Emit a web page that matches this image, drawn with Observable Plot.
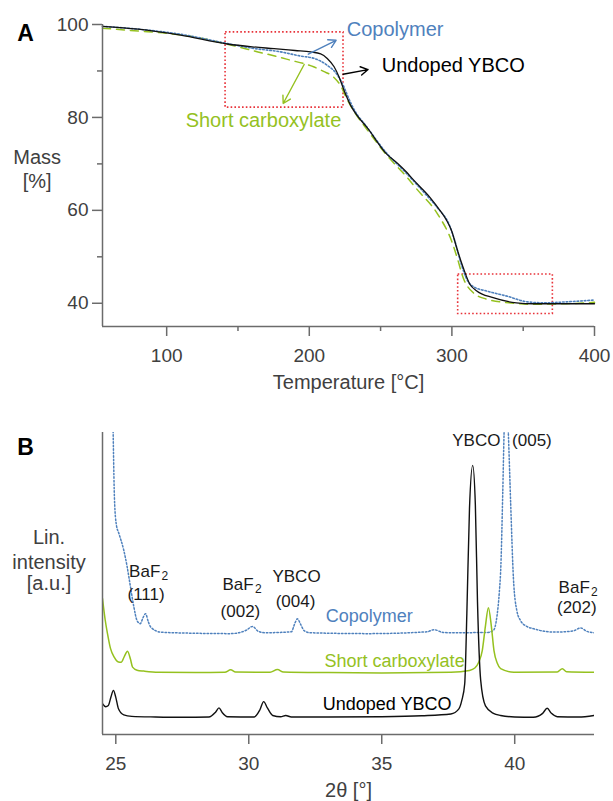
<!DOCTYPE html>
<html><head><meta charset="utf-8">
<script src="https://cdn.jsdelivr.net/npm/d3@7"></script>
<script src="https://cdn.jsdelivr.net/npm/@observablehq/plot@0.6"></script>
<style>
body{margin:0;background:#fff;}
#wrap{position:relative;width:613px;height:801px;background:#fff;}
#wrap svg{position:absolute;left:0;}
</style></head><body><div id="wrap"></div>
<script>
const FONT = '"Liberation Sans", Arial, Helvetica, sans-serif';
const BLUE = "#4f81bd", GREEN = "#95c11f", RED = "#e8333a", AXIS = "#6b6b6b", TXT = "#404040";

// ---------- Panel A: TGA (Temperature °C, Mass %) ----------
const undopedTGA = [[55,99.6],[80,99.0],[109.8,97.7],[142.6,95.8],[160,95.2],[175.3,94.8],[190,94.4],[201,94.1],[208,93.7],[212.6,92.7],[217.4,90.9],[220.9,88.7],[224.4,85.8],[229,82.6],[234,80.2],[240.3,77.9],[254.3,72.1],[262,70.1],[268.3,68.2],[272.9,66.6],[284.6,62.8],[291.6,60.0],[296,58.0],[299.8,55.6],[303.3,52.0],[307.9,47.7],[312.6,44.1],[317.2,42.7],[328.9,41.2],[345.2,40.1],[356.8,39.9],[400,39.9]];
const copolymerTGA = [[55,99.6],[80,99.0],[109.8,97.9],[142.6,95.9],[160,94.9],[180,94.1],[194,93.2],[203.4,92.7],[212.7,91.2],[219.8,89.1],[224.4,86.5],[227.5,84.2],[232,81.4],[240,78.1],[254,72.4],[268,68.0],[280,64.0],[290,60.5],[298,57.0],[302,53.5],[306,49.0],[310.9,44.9],[315.6,43.5],[324.9,42.6],[339,41.5],[353,40.3],[365,40.1],[380,40.3],[400,40.7]];
const shortTGA = [[55,99.2],[80,98.6],[100.5,98.1],[125,97.0],[142,95.8],[150,95.2],[164,94.1],[180,92.9],[187,92.3],[196,91.6],[203,90.9],[210,89.9],[217,88.7],[222,86.8],[226,84.2],[232,81.0],[240,77.6],[254,72.0],[268,67.3],[275.3,64.6],[290,59.2],[299.8,53.4],[304,49.5],[307.9,45.5],[314.9,42.3],[324.2,40.9],[340,40.1],[356.8,39.8],[380,39.9],[400,40.2]];
const tgaXTicks = [100, 200, 300, 400];
const tgaXMinor = [150, 250, 350];
const tgaYTicks = [40, 60, 80, 100];
const tgaYMinor = [50, 70, 90];
const tgaSeriesNames = ["Copolymer", "Undoped YBCO", "Short carboxylate"];
// highlighted regions [x1, x2, y1, y2]
const tgaBoxes = [[141.3, 224.0, 82.1, 98.3], [304.4, 370.8, 37.7, 46.2]];
// annotation arrows [x1, y1, x2, y2]
const tgaArrows = [[199.3, 93.6, 218.8, 96.6], [223.7, 89.3, 241.2, 90.3], [196.4, 91.4, 181.7, 83.0]];

// ---------- Panel B: XRD (2θ °, intensity a.u.) ----------
const undopedXRD = [[24.5,10.2],[24.62,9.2],[24.72,9.6],[24.82,12.5],[24.91,14.6],[25.0,12.3],[25.1,8.5],[25.3,6.5],[25.6,6.0],[26.5,5.8],[27.5,5.7],[28.5,5.8],[28.75,7.4],[28.88,8.8],[29.0,7.3],[29.2,5.9],[30.2,5.8],[30.42,8.2],[30.56,10.9],[30.7,8.8],[30.9,6.3],[31.2,5.9],[31.39,6.3],[31.6,5.8],[33,5.8],[35,5.9],[36.5,6.2],[37.6,6.8],[37.9,8.5],[38.01,11.3],[38.12,16.8],[38.2,40],[38.3,75],[38.42,89.1],[38.52,76],[38.6,44],[38.72,18],[38.9,9.5],[39.2,7.0],[39.47,6.3],[40.0,5.8],[40.7,5.7],[41.05,7.0],[41.22,8.7],[41.38,7.0],[41.6,5.9],[42.4,5.8],[42.98,6.3]];
const shortXRD = [[24.5,45.0],[24.6,38.0],[24.69,33.3],[24.8,28.5],[24.94,25.6],[25.1,24.0],[25.2,23.9],[25.32,25.8],[25.44,27.6],[25.55,25.0],[25.63,22.3],[25.8,21.3],[26.06,21.0],[26.6,20.6],[28,20.5],[29.1,20.6],[29.32,21.4],[29.5,20.7],[30.8,20.6],[31.08,21.5],[31.3,20.7],[33,20.5],[35,20.4],[37.6,20.6],[38.3,21.2],[38.5,22.0],[38.65,24.0],[38.78,27.8],[38.9,36.0],[39.01,42.0],[39.12,36.0],[39.22,27.8],[39.35,23.5],[39.47,21.8],[39.97,20.6],[41.6,20.7],[41.79,21.8],[41.95,20.8],[42.98,20.6]];
const copolymerXRD = [[24.88,112],[24.91,95],[24.95,78],[25.02,69.5],[25.12,66.5],[25.3,61.0],[25.43,55.4],[25.55,49.0],[25.68,42.2],[25.8,37.7],[25.92,36.7],[26.02,38.6],[26.12,40.0],[26.22,37.4],[26.32,35.5],[26.69,33.9],[27.6,33.6],[29.32,33.4],[29.9,34.5],[30.14,35.8],[30.35,34.2],[30.6,33.7],[31.6,34.0],[31.74,37.0],[31.83,38.3],[31.95,36.5],[32.08,34.4],[32.3,33.7],[34.5,33.4],[36.7,34.0],[36.97,34.7],[37.3,33.8],[37.6,33.7],[39.0,33.8],[39.2,34.5],[39.33,39.0],[39.42,47.0],[39.48,56.0],[39.55,80.0],[39.6,100],[39.68,118],[39.76,100],[39.85,76],[39.95,52],[40.08,41],[40.22,37.7],[40.45,35.8],[40.72,35.0],[41.1,34.2],[41.48,33.9],[42.2,34.3],[42.48,35.3],[42.7,34.2],[42.98,33.7]];
const xrdXTicks = [25, 30, 35, 40];
const peakText = ["BaF", "(111)", "BaF", "(002)", "YBCO", "(004)", "YBCO", "(005)", "BaF", "(202)"];
const peakX = [25.5, 25.44, 29.01, 28.94, 30.89, 31.01, 37.65, 39.9, 41.65, 41.59];
const peakY = [52.1, 44.4, 47.7, 38.9, 50.4, 42.1, 95.5, 95.5, 46.9, 40.2];
const subText = ["2", "2", "2"];
const subX = [25.5, 29.01, 41.65];
const subY = [52.1, 47.7, 46.9];
const xrdSeriesNames = ["Copolymer", "Short carboxylate", "Undoped YBCO"];
const xrdNameX = [32.89, 32.85, 32.78];
const xrdNameY = [37.2, 22.5, 8.2];

const wrap = document.getElementById("wrap");
const X = d => d[0], Y = d => d[1];

// ---------------- Panel A ----------------
const plotA = Plot.plot({
  width: 613, height: 400,
  marginTop: 24, marginBottom: 74, marginLeft: 102, marginRight: 19,
  x: {domain: [55, 400], label: null},
  y: {domain: [35, 100], label: null},
  style: {fontFamily: FONT, fontSize: "19px", color: TXT, background: "#fff", overflow: "visible"},
  marks: [
    Plot.rect(tgaBoxes, {x1: d => d[0], x2: d => d[1], y1: d => d[2], y2: d => d[3], fill: "none", stroke: RED, strokeWidth: 1.6, strokeDasharray: "1.6,2.2"}),
    Plot.line(shortTGA, {x: X, y: Y, stroke: GREEN, strokeWidth: 1.5, strokeDasharray: "8,6", curve: "monotone-x"}),
    Plot.line(copolymerTGA, {x: X, y: Y, stroke: BLUE, strokeWidth: 1.6, strokeDasharray: "1.6,2", curve: "monotone-x"}),
    Plot.line(undopedTGA, {x: X, y: Y, stroke: "#111", strokeWidth: 1.3, curve: "monotone-x"}),
    Plot.arrow(tgaArrows, {x1: d => d[0], y1: d => d[1], x2: d => d[2], y2: d => d[3], stroke: (d, i) => [BLUE, "#000", GREEN][i], strokeWidth: 1.4, headLength: 9}),
    Plot.text([tgaSeriesNames[0]], {x: [226.3], y: [97.5], text: d => d, textAnchor: "start", lineAnchor: "bottom", fill: BLUE, fontSize: 20}),
    Plot.text([tgaSeriesNames[1]], {x: [250.8], y: [89.8], text: d => d, textAnchor: "start", lineAnchor: "bottom", fill: "#000", fontSize: 20}),
    Plot.text([tgaSeriesNames[2]], {x: [113.3], y: [77.9], text: d => d, textAnchor: "start", lineAnchor: "bottom", fill: GREEN, fontSize: 20}),
    Plot.ruleX([55], {stroke: AXIS, strokeWidth: 1.5}),
    Plot.ruleY([35], {stroke: AXIS, strokeWidth: 1.5}),
    Plot.axisX(tgaXTicks, {anchor: "bottom", tickSize: 10, tickPadding: 12, stroke: AXIS, strokeWidth: 1.5, fill: TXT, label: null}),
    Plot.axisX(tgaXMinor, {anchor: "bottom", tickSize: 5, tickFormat: () => "", stroke: AXIS, strokeWidth: 1.5, label: null}),
    Plot.axisY(tgaYTicks, {anchor: "left", tickSize: 10, tickPadding: 4, stroke: AXIS, strokeWidth: 1.5, fill: TXT, label: null}),
    Plot.axisY(tgaYMinor, {anchor: "left", tickSize: 5, tickFormat: () => "", stroke: AXIS, strokeWidth: 1.5, label: null}),
    Plot.text(["Temperature [°C]"], {frameAnchor: "bottom", text: d => d, dy: 62, lineAnchor: "bottom", fontSize: 20, fill: TXT}),
    Plot.text(["Mass"], {frameAnchor: "left", text: d => d, dx: -65.3, dy: -11.7, lineAnchor: "bottom", textAnchor: "middle", fontSize: 20, fill: TXT}),
    Plot.text(["[%]"], {frameAnchor: "left", text: d => d, dx: -65.3, dy: 12.7, lineAnchor: "bottom", textAnchor: "middle", fontSize: 20, fill: TXT}),
    Plot.text(["A"], {frameAnchor: "top-left", text: d => d, dx: -85.3, dy: 16, lineAnchor: "bottom", textAnchor: "start", fontSize: 23, fontWeight: "bold", fill: "#000"})
  ]
});
plotA.style.top = "0px";
wrap.appendChild(plotA);

// ---------------- Panel B ----------------
const plotB = Plot.plot({
  width: 613, height: 401,
  marginTop: 32, marginBottom: 67, marginLeft: 102, marginRight: 19,
  x: {domain: [24.5, 43], label: null},
  y: {domain: [0, 100], label: null, axis: null},
  style: {fontFamily: FONT, fontSize: "19px", color: TXT, background: "#fff", overflow: "visible"},
  marks: [
    Plot.line(copolymerXRD, {x: X, y: Y, stroke: BLUE, strokeWidth: 1.5, strokeDasharray: "1.5,2", curve: "monotone-x", clip: true}),
    Plot.line(shortXRD, {x: X, y: Y, stroke: GREEN, strokeWidth: 1.5, curve: "monotone-x", clip: true}),
    Plot.line(undopedXRD, {x: X, y: Y, stroke: "#111", strokeWidth: 1.4, curve: "monotone-x", clip: true}),
    Plot.ruleX([24.5], {stroke: AXIS, strokeWidth: 1.5}),
    Plot.ruleY([0], {stroke: AXIS, strokeWidth: 1.5}),
    Plot.axisX(xrdXTicks, {anchor: "bottom", tickSize: 10, tickPadding: 12, stroke: AXIS, strokeWidth: 1.5, fill: TXT, label: null}),
    Plot.text(peakText, {x: peakX, y: peakY, text: d => d, textAnchor: "start", lineAnchor: "bottom", fontSize: 17, fill: "#1a1a1a"}),
    Plot.text(subText, {x: subX, y: subY, text: d => d, dx: 32.5, dy: 3, textAnchor: "start", lineAnchor: "bottom", fontSize: 12, fill: "#1a1a1a"}),
    Plot.text(xrdSeriesNames, {x: xrdNameX, y: xrdNameY, text: d => d, textAnchor: "start", lineAnchor: "bottom", fontSize: 18, fill: (d, i) => [BLUE, GREEN, "#000"][i]}),
    Plot.text(["2θ [°]"], {frameAnchor: "bottom", text: d => d, dy: 62, lineAnchor: "bottom", fontSize: 20, fill: TXT}),
    Plot.text(["Lin."], {frameAnchor: "left", text: d => d, dx: -53.5, dy: -39.7, lineAnchor: "bottom", textAnchor: "middle", fontSize: 20, fill: TXT}),
    Plot.text(["intensity"], {frameAnchor: "left", text: d => d, dx: -53.5, dy: -14.7, lineAnchor: "bottom", textAnchor: "middle", fontSize: 20, fill: TXT}),
    Plot.text(["[a.u.]"], {frameAnchor: "left", text: d => d, dx: -53.5, dy: 6, lineAnchor: "bottom", textAnchor: "middle", fontSize: 20, fill: TXT}),
    Plot.text(["B"], {frameAnchor: "top-left", text: d => d, dx: -85.3, dy: 22.3, lineAnchor: "bottom", textAnchor: "start", fontSize: 23, fontWeight: "bold", fill: "#000"})
  ]
});
plotB.style.top = "400px";
wrap.appendChild(plotB);
</script>
</body></html>
